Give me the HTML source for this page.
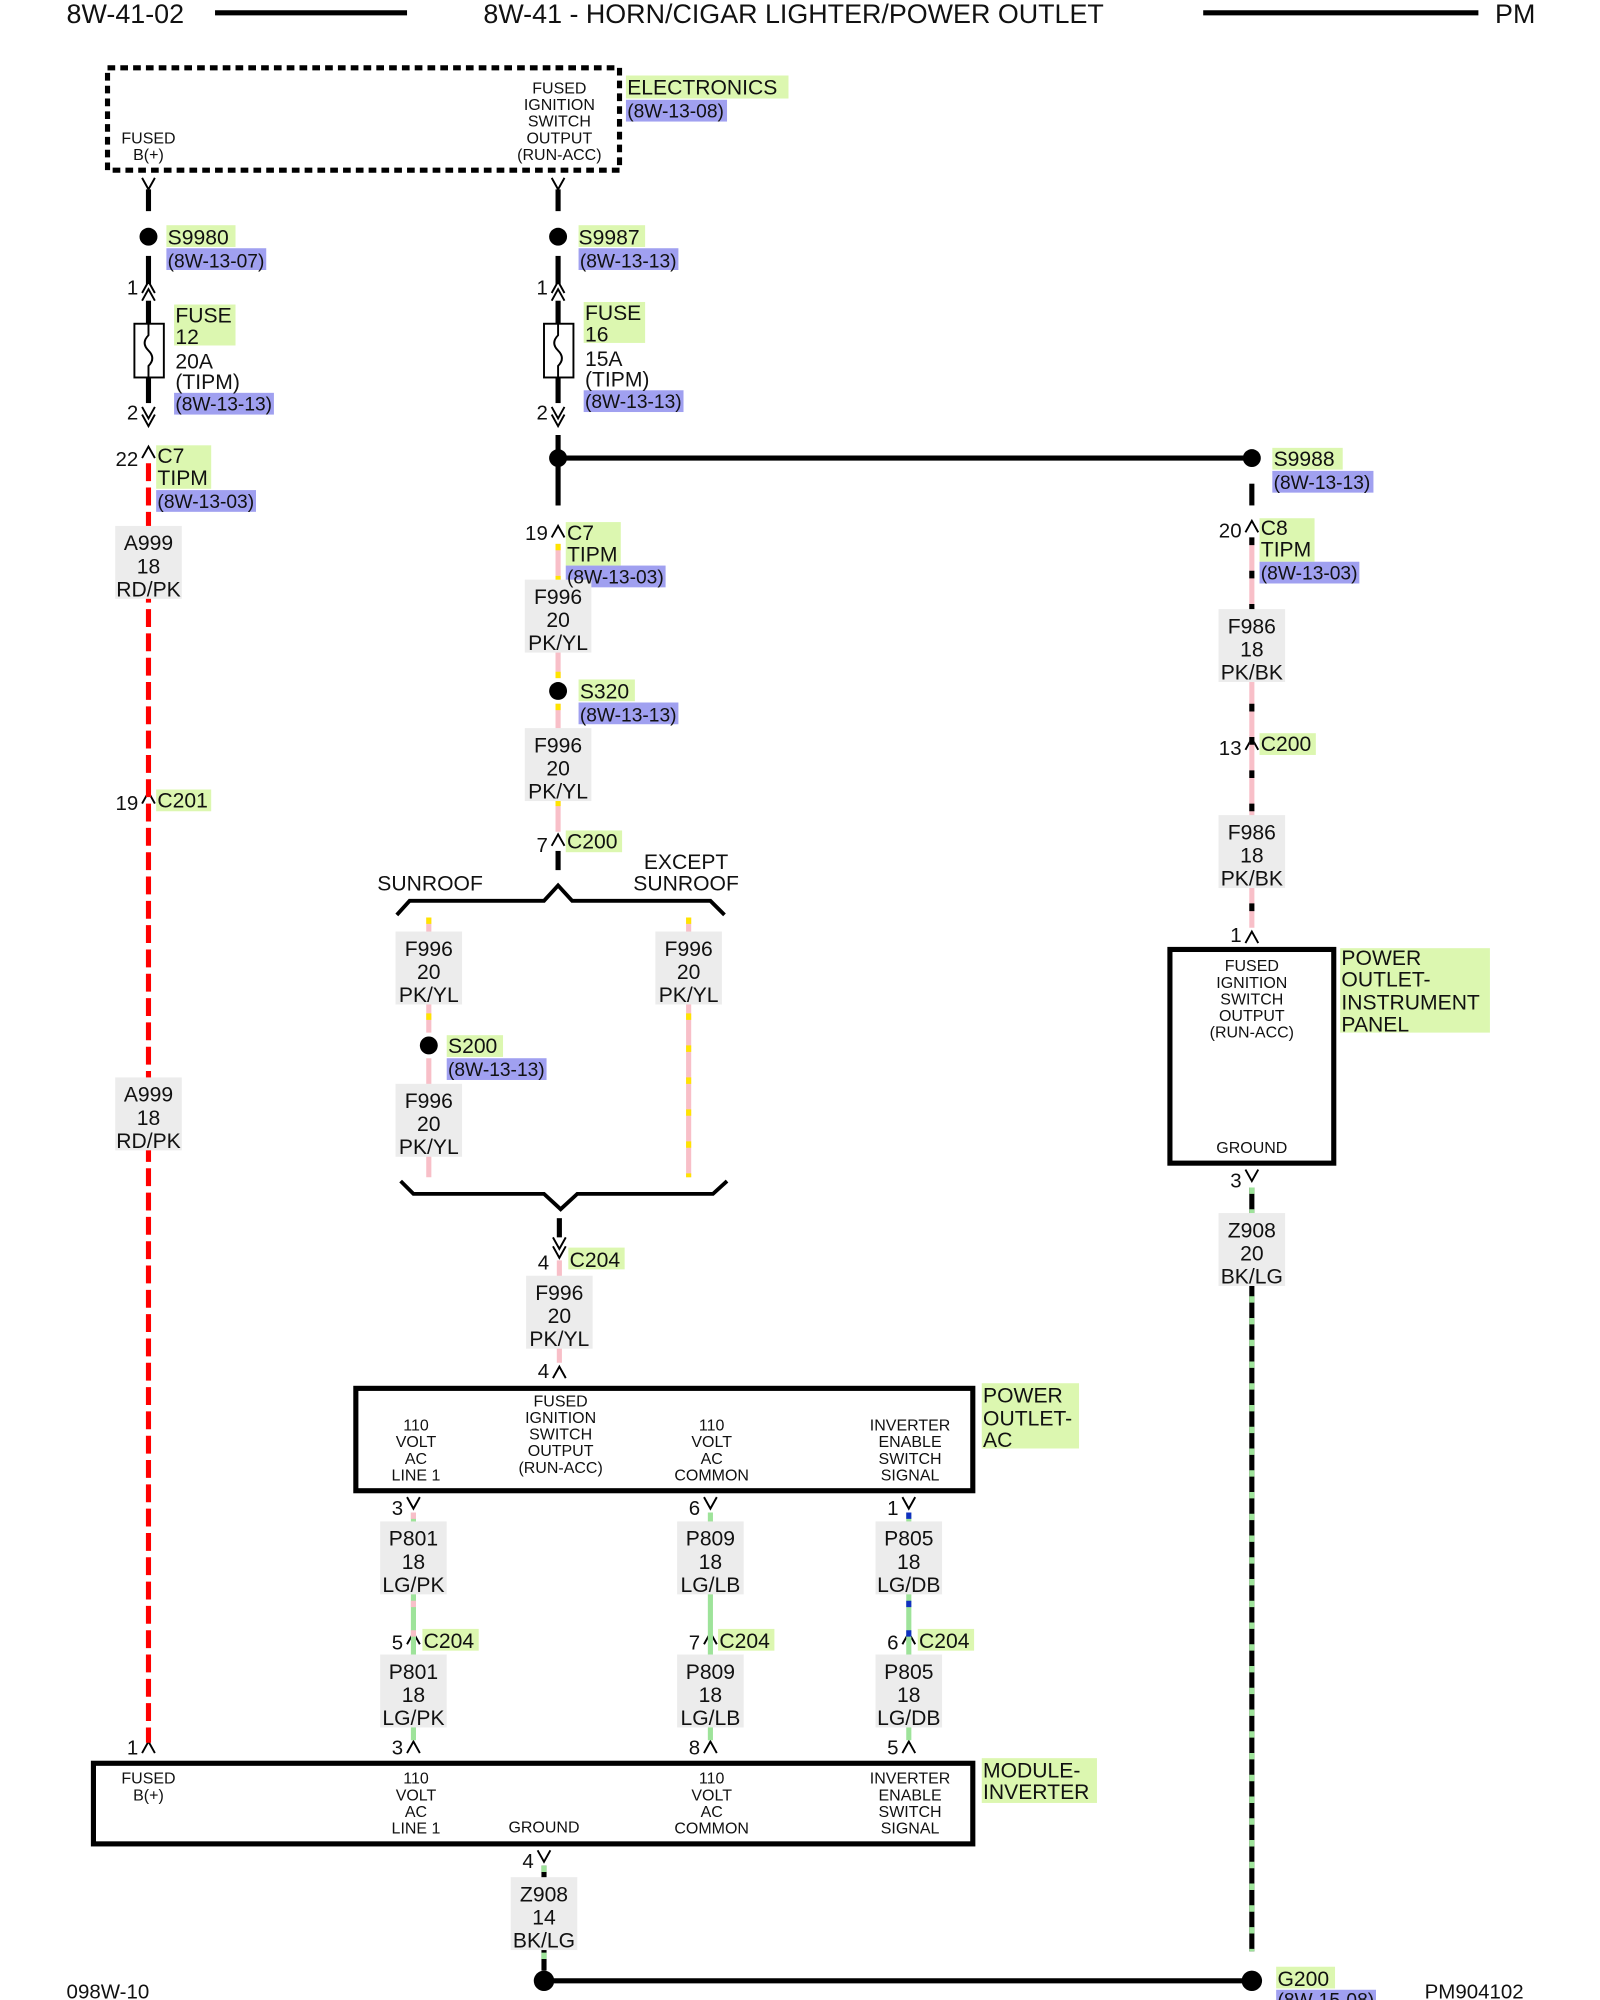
<!DOCTYPE html>
<html><head><meta charset="utf-8"><style>
html,body{margin:0;padding:0;background:#fff}
svg{display:block}
text{font-family:"Liberation Sans",sans-serif;fill:#111}
.t{font-size:12.5px;text-anchor:middle}
.w{font-size:16.5px;text-anchor:middle}
.g{font-size:16.5px}
.n{font-size:16px;text-anchor:end}
</style></head><body>
<svg width="1600" height="2000" viewBox="0 0 1250 1563" preserveAspectRatio="none" xmlns="http://www.w3.org/2000/svg">
<rect width="1250" height="1563" fill="#fff"/>
<!-- header -->
<text x="52" y="18" style="font-size:21px">8W-41-02</text>
<line x1="168" y1="10" x2="318" y2="10" stroke="#000" stroke-width="4"/>
<text x="620" y="18" style="font-size:21px;text-anchor:middle">8W-41 - HORN/CIGAR LIGHTER/POWER OUTLET</text>
<line x1="940" y1="10" x2="1155" y2="10" stroke="#000" stroke-width="4"/>
<text x="1168" y="18" style="font-size:21px">PM</text>

<!-- highlights -->
<g fill="#dcf7b0">
<rect x="489" y="59" width="127" height="18"/>
<rect x="130" y="176" width="54" height="17"/>
<rect x="136" y="238" width="48" height="32"/>
<rect x="122" y="348" width="43" height="34"/>
<rect x="452" y="176" width="52" height="17"/>
<rect x="456" y="236" width="48" height="32"/>
<rect x="994" y="350" width="55" height="17"/>
<rect x="442" y="408" width="43" height="34"/>
<rect x="984" y="405" width="43" height="34"/>
<rect x="452" y="531" width="44" height="17"/>
<rect x="984" y="573" width="44" height="17"/>
<rect x="122" y="617" width="43" height="17"/>
<rect x="442" y="649" width="44" height="17"/>
<rect x="349" y="809" width="44" height="17"/>
<rect x="1047" y="741" width="117" height="66"/>
<rect x="444" y="975" width="44" height="17"/>
<rect x="767" y="1081" width="76" height="51"/>
<rect x="330" y="1273" width="44" height="17"/>
<rect x="561" y="1273" width="44" height="17"/>
<rect x="717" y="1273" width="44" height="17"/>
<rect x="767" y="1374" width="90" height="35"/>
<rect x="997" y="1537" width="46" height="17"/>
</g>
<g fill="#a0a0f0">
<rect x="489" y="78" width="79" height="17"/>
<rect x="130" y="194" width="78" height="17"/>
<rect x="136" y="307" width="78" height="17"/>
<rect x="122" y="383" width="78" height="17"/>
<rect x="452" y="194" width="78" height="17"/>
<rect x="456" y="305" width="78" height="17"/>
<rect x="994" y="368" width="79" height="17"/>
<rect x="442" y="442" width="78" height="17"/>
<rect x="984" y="439" width="78" height="17"/>
<rect x="452" y="549" width="78" height="17"/>
<rect x="349" y="827" width="78" height="17"/>
<rect x="997" y="1555" width="78" height="10"/>
</g>

<!-- Electronics box -->
<rect x="84" y="53" width="400" height="80" fill="none" stroke="#000" stroke-width="4" stroke-dasharray="6,4"/>
<text class="t" x="116" y="112">FUSED</text><text class="t" x="116" y="125">B(+)</text>
<text class="t" x="437" y="73">FUSED</text><text class="t" x="437" y="86">IGNITION</text><text class="t" x="437" y="99">SWITCH</text><text class="t" x="437" y="112">OUTPUT</text><text class="t" x="437" y="125">(RUN-ACC)</text>
<text class="g" x="490" y="74">ELECTRONICS</text><text class="g" x="490" y="92" style="font-size:15px">(8W-13-08)</text>

<!-- left column -->
<g stroke="#000" stroke-width="4" fill="none">
<line x1="116" y1="148" x2="116" y2="165"/>
<line x1="116" y1="200" x2="116" y2="222"/>
<line x1="116" y1="235" x2="116" y2="253"/>
<line x1="116" y1="295" x2="116" y2="315"/>
<line x1="436" y1="148" x2="436" y2="165"/>
<line x1="436" y1="200" x2="436" y2="222"/>
<line x1="436" y1="235" x2="436" y2="253"/>
<line x1="436" y1="295" x2="436" y2="315"/>
<line x1="436" y1="340" x2="436" y2="395"/>
<line x1="436" y1="358" x2="978" y2="358"/>
<line x1="978" y1="378" x2="978" y2="395"/>
<line x1="436" y1="665" x2="436" y2="680"/>
<line x1="437" y1="952" x2="437" y2="967"/>
<line x1="425" y1="1548" x2="978" y2="1548"/>
</g>
<g stroke="#000" stroke-width="1.5" fill="none">
<path d="M111 139 L116 148 L121 139"/><path d="M431 139 L436 148 L441 139"/>
<path d="M111 229 L116 220 L121 229 M111 235 L116 226 L121 235"/>
<path d="M431 229 L436 220 L441 229 M431 235 L436 226 L441 235"/>
<path d="M111 318 L116 327 L121 318 M111 324 L116 333 L121 324"/>
<path d="M431 318 L436 327 L441 318 M431 324 L436 333 L441 324"/>
<path d="M111 358 L116 349 L121 358"/>
<path d="M431 420 L436 411 L441 420"/>
<path d="M973 416 L978 407 L983 416"/>
<path d="M973 586 L978 577 L983 586"/>
<path d="M111 628 L116 619 L121 628"/>
<path d="M431 661 L436 652 L441 661"/>
<path d="M973 737 L978 728 L983 737"/>
<path d="M973 914 L978 923 L983 914"/>
<path d="M432 967 L437 976 L442 967 M432 974 L437 983 L442 974"/>
<path d="M432 1077 L437 1068 L442 1077"/>
<path d="M318 1170 L323 1179 L328 1170"/><path d="M550 1170 L555 1179 L560 1170"/><path d="M705 1170 L710 1179 L715 1170"/>
<path d="M318 1285 L323 1276 L328 1285"/><path d="M550 1285 L555 1276 L560 1285"/><path d="M705 1285 L710 1276 L715 1285"/>
<path d="M111 1370 L116 1361 L121 1370"/><path d="M318 1370 L323 1361 L328 1370"/><path d="M550 1370 L555 1361 L560 1370"/><path d="M705 1370 L710 1361 L715 1370"/>
<path d="M420 1446 L425 1455 L430 1446"/>
<rect x="105" y="253" width="23" height="42"/><path d="M116 253 L116 262 Q110 268 116 274 Q122 280 116 286 L116 295"/>
<rect x="425" y="253" width="23" height="42"/><path d="M436 253 L436 262 Q430 268 436 274 Q442 280 436 286 L436 295"/>
</g>
<g fill="#000">
<circle cx="116" cy="185" r="7"/><circle cx="436" cy="185" r="7"/>
<circle cx="436" cy="358" r="7"/><circle cx="978" cy="358" r="7"/>
<circle cx="436" cy="540" r="7"/><circle cx="335" cy="817" r="7"/>
<circle cx="425" cy="1548" r="8"/><circle cx="978" cy="1548" r="8"/>
</g>
<text class="g" x="131" y="191">S9980</text><text class="g" x="131" y="209" style="font-size:15px">(8W-13-07)</text>
<text class="g" x="452" y="191">S9987</text><text class="g" x="453" y="209" style="font-size:15px">(8W-13-13)</text>
<text class="n" x="108" y="230">1</text><text class="n" x="428" y="230">1</text>
<text class="g" x="137" y="252">FUSE</text><text class="g" x="137" y="269">12</text><text class="g" x="137" y="288">20A</text><text class="g" x="137" y="304">(TIPM)</text><text class="g" x="137" y="321" style="font-size:15px">(8W-13-13)</text>
<text class="g" x="457" y="250">FUSE</text><text class="g" x="457" y="267">16</text><text class="g" x="457" y="286">15A</text><text class="g" x="457" y="302">(TIPM)</text><text class="g" x="457" y="319" style="font-size:15px">(8W-13-13)</text>
<text class="n" x="108" y="328">2</text><text class="n" x="428" y="328">2</text>
<text class="n" x="108" y="364">22</text><text class="g" x="123" y="362">C7</text><text class="g" x="123" y="379">TIPM</text><text class="g" x="123" y="397" style="font-size:15px">(8W-13-03)</text>
<text class="g" x="995" y="364">S9988</text><text class="g" x="995" y="382" style="font-size:15px">(8W-13-13)</text>

<!-- wires colored -->
<line x1="116" y1="362" x2="116" y2="1362" stroke="#f00" stroke-width="4" stroke-dasharray="14,5"/>
<line x1="436" y1="425" x2="436" y2="530" stroke="#f8bfc8" stroke-width="4"/>
<line x1="436" y1="425" x2="436" y2="530" stroke="#ffe300" stroke-width="4" stroke-dasharray="5,20"/>
<line x1="436" y1="550" x2="436" y2="650" stroke="#f8bfc8" stroke-width="4"/>
<line x1="436" y1="550" x2="436" y2="650" stroke="#ffe300" stroke-width="4" stroke-dasharray="5,20"/>
<line x1="335" y1="717" x2="335" y2="807" stroke="#f8bfc8" stroke-width="4"/>
<line x1="335" y1="717" x2="335" y2="807" stroke="#ffe300" stroke-width="4" stroke-dasharray="5,20"/>
<line x1="335" y1="827" x2="335" y2="920" stroke="#f8bfc8" stroke-width="4"/>
<line x1="538" y1="717" x2="538" y2="920" stroke="#f8bfc8" stroke-width="4"/>
<line x1="538" y1="717" x2="538" y2="920" stroke="#ffe300" stroke-width="4" stroke-dasharray="5,20"/>
<line x1="437" y1="985" x2="437" y2="1065" stroke="#f8bfc8" stroke-width="4"/>
<line x1="978" y1="420" x2="978" y2="725" stroke="#f8bfc8" stroke-width="4"/>
<line x1="978" y1="420" x2="978" y2="725" stroke="#000" stroke-width="4" stroke-dasharray="6,20"/>
<line x1="978" y1="928" x2="978" y2="1525" stroke="#000" stroke-width="4"/>
<line x1="978" y1="928" x2="978" y2="1525" stroke="#9ee39a" stroke-width="4" stroke-dasharray="5,12"/>
<line x1="425" y1="1458" x2="425" y2="1540" stroke="#000" stroke-width="4"/>
<line x1="425" y1="1458" x2="425" y2="1540" stroke="#9ee39a" stroke-width="4" stroke-dasharray="5,12"/>
<line x1="323" y1="1182" x2="323" y2="1360" stroke="#9ee39a" stroke-width="4"/>
<line x1="323" y1="1182" x2="323" y2="1360" stroke="#f8bfc8" stroke-width="4" stroke-dasharray="5,18"/>
<line x1="555" y1="1182" x2="555" y2="1360" stroke="#9ee39a" stroke-width="4"/>
<line x1="710" y1="1182" x2="710" y2="1360" stroke="#9ee39a" stroke-width="4"/>
<line x1="710" y1="1182" x2="710" y2="1360" stroke="#1030c0" stroke-width="4" stroke-dasharray="5,18"/>

<!-- wire labels -->
<g fill="#ececec">
<rect x="90" y="411" width="52" height="57"/><rect x="90" y="842" width="52" height="57"/>
<rect x="410" y="453" width="52" height="57"/><rect x="410" y="569" width="52" height="57"/>
<rect x="952" y="476" width="52" height="57"/><rect x="952" y="637" width="52" height="57"/>
<rect x="309" y="728" width="52" height="57"/><rect x="309" y="847" width="52" height="57"/>
<rect x="512" y="728" width="52" height="57"/>
<rect x="411" y="997" width="52" height="57"/>
<rect x="952" y="948" width="52" height="57"/>
<rect x="297" y="1189" width="52" height="57"/><rect x="529" y="1189" width="52" height="57"/><rect x="684" y="1189" width="52" height="57"/>
<rect x="297" y="1293" width="52" height="57"/><rect x="529" y="1293" width="52" height="57"/><rect x="684" y="1293" width="52" height="57"/>
<rect x="399" y="1467" width="52" height="57"/>
</g>
<g class="w">
<text class="w" x="116" y="430">A999</text><text class="w" x="116" y="448">18</text><text class="w" x="116" y="466">RD/PK</text>
<text class="w" x="116" y="861">A999</text><text class="w" x="116" y="879">18</text><text class="w" x="116" y="897">RD/PK</text>
<text class="w" x="436" y="472">F996</text><text class="w" x="436" y="490">20</text><text class="w" x="436" y="508">PK/YL</text>
<text class="w" x="436" y="588">F996</text><text class="w" x="436" y="606">20</text><text class="w" x="436" y="624">PK/YL</text>
<text class="w" x="978" y="495">F986</text><text class="w" x="978" y="513">18</text><text class="w" x="978" y="531">PK/BK</text>
<text class="w" x="978" y="656">F986</text><text class="w" x="978" y="674">18</text><text class="w" x="978" y="692">PK/BK</text>
<text class="w" x="335" y="747">F996</text><text class="w" x="335" y="765">20</text><text class="w" x="335" y="783">PK/YL</text>
<text class="w" x="335" y="866">F996</text><text class="w" x="335" y="884">20</text><text class="w" x="335" y="902">PK/YL</text>
<text class="w" x="538" y="747">F996</text><text class="w" x="538" y="765">20</text><text class="w" x="538" y="783">PK/YL</text>
<text class="w" x="437" y="1016">F996</text><text class="w" x="437" y="1034">20</text><text class="w" x="437" y="1052">PK/YL</text>
<text class="w" x="978" y="967">Z908</text><text class="w" x="978" y="985">20</text><text class="w" x="978" y="1003">BK/LG</text>
<text class="w" x="323" y="1208">P801</text><text class="w" x="323" y="1226">18</text><text class="w" x="323" y="1244">LG/PK</text>
<text class="w" x="555" y="1208">P809</text><text class="w" x="555" y="1226">18</text><text class="w" x="555" y="1244">LG/LB</text>
<text class="w" x="710" y="1208">P805</text><text class="w" x="710" y="1226">18</text><text class="w" x="710" y="1244">LG/DB</text>
<text class="w" x="323" y="1312">P801</text><text class="w" x="323" y="1330">18</text><text class="w" x="323" y="1348">LG/PK</text>
<text class="w" x="555" y="1312">P809</text><text class="w" x="555" y="1330">18</text><text class="w" x="555" y="1348">LG/LB</text>
<text class="w" x="710" y="1312">P805</text><text class="w" x="710" y="1330">18</text><text class="w" x="710" y="1348">LG/DB</text>
<text class="w" x="425" y="1486">Z908</text><text class="w" x="425" y="1504">14</text><text class="w" x="425" y="1522">BK/LG</text>
</g>

<!-- connector labels -->
<text class="n" x="428" y="422">19</text><text class="g" x="443" y="422">C7</text><text class="g" x="443" y="439">TIPM</text><text class="g" x="443" y="456" style="font-size:15px">(8W-13-03)</text>
<text class="n" x="970" y="420">20</text><text class="g" x="985" y="418">C8</text><text class="g" x="985" y="435">TIPM</text><text class="g" x="985" y="453" style="font-size:15px">(8W-13-03)</text>
<text class="g" x="453" y="546">S320</text><text class="g" x="453" y="564" style="font-size:15px">(8W-13-13)</text>
<text class="n" x="970" y="590">13</text><text class="g" x="985" y="587">C200</text>
<text class="n" x="108" y="633">19</text><text class="g" x="123" y="631">C201</text>
<text class="n" x="428" y="666">7</text><text class="g" x="443" y="663">C200</text>
<text class="w" x="336" y="696">SUNROOF</text>
<text class="w" x="536" y="679">EXCEPT</text><text class="w" x="536" y="696">SUNROOF</text>
<path d="M310 715 L320 704 L425 704 L436 692 L447 704 L555 704 L566 715" fill="none" stroke="#000" stroke-width="3"/>
<path d="M313 923 L323 933 L425 933 L438 945 L451 933 L557 933 L568 923" fill="none" stroke="#000" stroke-width="3"/>
<text class="g" x="350" y="823">S200</text><text class="g" x="350" y="841" style="font-size:15px">(8W-13-13)</text>
<text class="n" x="970" y="736">1</text>
<text class="n" x="429" y="992">4</text><text class="g" x="445" y="990">C204</text>
<text class="n" x="429" y="1077">4</text>

<!-- POWER OUTLET IP box -->
<rect x="914" y="742" width="128" height="167" fill="none" stroke="#000" stroke-width="4"/>
<text class="t" x="978" y="759">FUSED</text><text class="t" x="978" y="772">IGNITION</text><text class="t" x="978" y="785">SWITCH</text><text class="t" x="978" y="798">OUTPUT</text><text class="t" x="978" y="811">(RUN-ACC)</text>
<text class="t" x="978" y="901">GROUND</text>
<text class="g" x="1048" y="754">POWER</text><text class="g" x="1048" y="771">OUTLET-</text><text class="g" x="1048" y="789">INSTRUMENT</text><text class="g" x="1048" y="806">PANEL</text>
<text class="n" x="970" y="928">3</text>

<!-- POWER OUTLET AC -->
<rect x="278" y="1085" width="482" height="80" fill="none" stroke="#000" stroke-width="4"/>
<text class="t" x="325" y="1118">110</text><text class="t" x="325" y="1131">VOLT</text><text class="t" x="325" y="1144">AC</text><text class="t" x="325" y="1157">LINE 1</text>
<text class="t" x="438" y="1099">FUSED</text><text class="t" x="438" y="1112">IGNITION</text><text class="t" x="438" y="1125">SWITCH</text><text class="t" x="438" y="1138">OUTPUT</text><text class="t" x="438" y="1151">(RUN-ACC)</text>
<text class="t" x="556" y="1118">110</text><text class="t" x="556" y="1131">VOLT</text><text class="t" x="556" y="1144">AC</text><text class="t" x="556" y="1157">COMMON</text>
<text class="t" x="711" y="1118">INVERTER</text><text class="t" x="711" y="1131">ENABLE</text><text class="t" x="711" y="1144">SWITCH</text><text class="t" x="711" y="1157">SIGNAL</text>
<text class="g" x="768" y="1096">POWER</text><text class="g" x="768" y="1114">OUTLET-</text><text class="g" x="768" y="1131">AC</text>
<text class="n" x="315" y="1184">3</text><text class="n" x="547" y="1184">6</text><text class="n" x="702" y="1184">1</text>
<text class="n" x="315" y="1289">5</text><text class="g" x="331" y="1288">C204</text>
<text class="n" x="547" y="1289">7</text><text class="g" x="562" y="1288">C204</text>
<text class="n" x="702" y="1289">6</text><text class="g" x="718" y="1288">C204</text>
<text class="n" x="108" y="1371">1</text><text class="n" x="315" y="1371">3</text><text class="n" x="547" y="1371">8</text><text class="n" x="702" y="1371">5</text>

<!-- MODULE-INVERTER -->
<rect x="73" y="1378" width="687" height="63" fill="none" stroke="#000" stroke-width="4"/>
<text class="t" x="116" y="1394">FUSED</text><text class="t" x="116" y="1407">B(+)</text>
<text class="t" x="325" y="1394">110</text><text class="t" x="325" y="1407">VOLT</text><text class="t" x="325" y="1420">AC</text><text class="t" x="325" y="1433">LINE 1</text>
<text class="t" x="425" y="1432">GROUND</text>
<text class="t" x="556" y="1394">110</text><text class="t" x="556" y="1407">VOLT</text><text class="t" x="556" y="1420">AC</text><text class="t" x="556" y="1433">COMMON</text>
<text class="t" x="711" y="1394">INVERTER</text><text class="t" x="711" y="1407">ENABLE</text><text class="t" x="711" y="1420">SWITCH</text><text class="t" x="711" y="1433">SIGNAL</text>
<text class="g" x="768" y="1389">MODULE-</text><text class="g" x="768" y="1406">INVERTER</text>
<text class="n" x="417" y="1460">4</text>

<text class="g" x="998" y="1552">G200</text><text class="g" x="998" y="1568" style="font-size:15px">(8W-15-08)</text>
<text x="52" y="1562" style="font-size:16px">098W-10</text>
<text x="1113" y="1562" style="font-size:16px">PM904102</text>
</svg>
</body></html>
